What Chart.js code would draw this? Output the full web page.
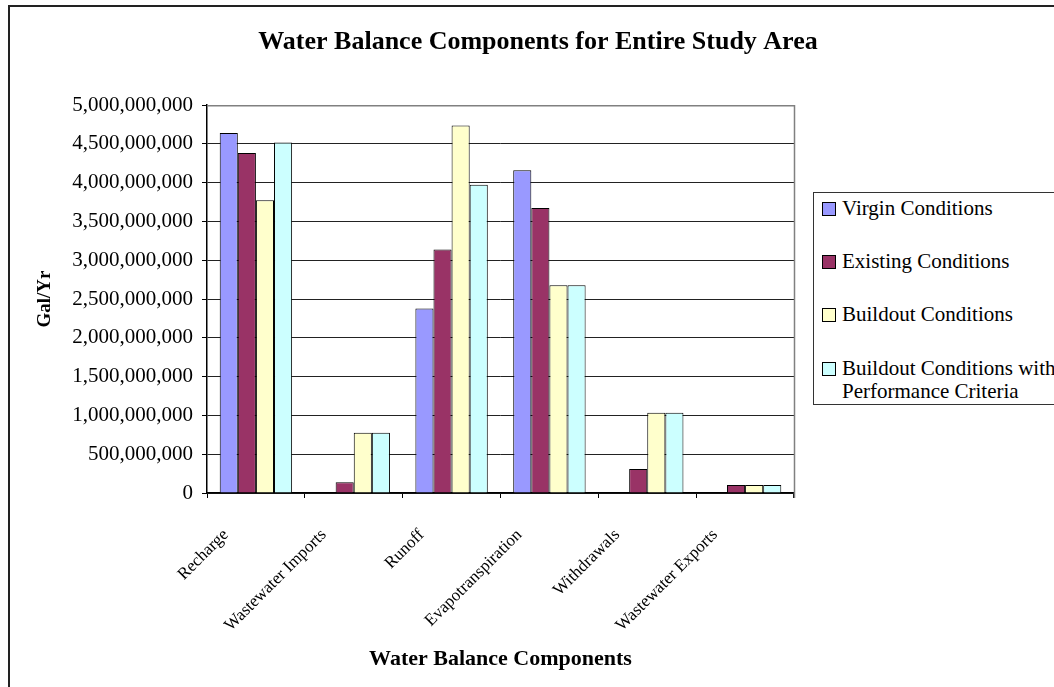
<!DOCTYPE html>
<html>
<head>
<meta charset="utf-8">
<title>Water Balance Components for Entire Study Area</title>
<script src="https://cdn.jsdelivr.net/npm/chart.js@4.4.1/dist/chart.umd.min.js"></script>
<style>
  html, body { margin: 0; padding: 0; background: #fff; }
  body { width: 1054px; height: 687px; position: relative; overflow: hidden; }
  #frame { position: absolute; left: 8px; top: 5px; width: 1200px; height: 900px; border: 2px solid #222; box-sizing: border-box; }
  #chart { position: absolute; left: 0; top: 0; }
  #legend {
    position: absolute; left: 813px; top: 192px; width: 300px; height: 213px;
    border: 1px solid #333; box-sizing: border-box; background: #fff;
    font-family: "Liberation Serif", "Times New Roman", serif; font-size: 21px; color: #000;
  }
  .item { position: absolute; left: 8px; line-height: 23px; }
  .swatch { position: absolute; left: 0; top: 5px; width: 12px; height: 12px; border: 1px solid #000; }
  .txt { margin-left: 20px; }
</style>
</head>
<body>
<div id="frame"></div>
<canvas id="chart" width="1054" height="687"></canvas>
<div id="legend"></div>

<script>
/* ===== DATA ===== */
const categories = ["Recharge", "Wastewater Imports", "Runoff", "Evapotranspiration", "Withdrawals", "Wastewater Exports"];

const virgin     = [4640000000, 0,         2380000000, 4160000000, 0,          0];
const existing   = [4385000000, 138000000, 3140000000, 3673000000, 309000000,  103000000];
const buildout   = [3776000000, 777000000, 4738000000, 2680000000, 1035000000, 103000000];
const buildoutPC = [4520000000, 777000000, 3973000000, 2680000000, 1035000000, 103000000];

const seriesNames = ["Virgin Conditions", "Existing Conditions", "Buildout Conditions", "Buildout Conditions with\nPerformance Criteria"];
const seriesColors = ["#9999FF", "#993366", "#FFFFCC", "#CCFFFF"];

const yTicks = [0, 500000000, 1000000000, 1500000000, 2000000000, 2500000000, 3000000000, 3500000000, 4000000000, 4500000000, 5000000000];

/* ===== STYLE ===== */
const SERIF = "'Liberation Serif', 'Times New Roman', serif";

/* gray frame on top/right of the plot area */
const plotFrame = {
  id: "plotFrame",
  afterDraw(chart) {
    const a = chart.chartArea;
    const c = chart.ctx;
    c.save();
    c.strokeStyle = "#808080";
    c.lineWidth = 1.5;
    c.beginPath();
    c.moveTo(a.left, a.top + 0.5);
    c.lineTo(a.right + 0.5, a.top + 0.5);
    c.lineTo(a.right + 0.5, a.bottom + 5);
    c.stroke();
    c.restore();
  }
};

const data = [virgin, existing, buildout, buildoutPC];

new Chart(document.getElementById("chart"), {
  type: "bar",
  data: {
    labels: categories,
    datasets: data.map((d, i) => ({
      label: seriesNames[i].replace("\n", " "),
      data: d,
      backgroundColor: seriesColors[i],
      borderColor: "#000",
      borderWidth: 1,
      categoryPercentage: 0.74,
      barPercentage: 1.0
    }))
  },
  options: {
    responsive: false,
    animation: false,
    layout: { padding: { left: 22, right: 0, top: 0, bottom: 14 } },
    plugins: {
      legend: { display: false },
      tooltip: { enabled: false },
      title: {
        display: true,
        text: "Water Balance Components for Entire Study Area",
        color: "#000",
        font: { family: SERIF, size: 26, weight: "bold" },
        padding: { top: 27, bottom: 47 }
      }
    },
    scales: {
      x: {
        afterFit(scale) {
          scale.height = 687 - 14 - 493;
        },
        grid: {
          offset: true,
          drawOnChartArea: false,
          drawTicks: true,
          tickLength: 5,
          color: "#000"
        },
        border: { color: "#000", width: 1.5 },
        ticks: {
          color: "#000",
          font: { family: SERIF, size: 17 },
          minRotation: 45,
          maxRotation: 45,
          padding: 27,
          labelOffset: -30,
          autoSkip: false
        },
        title: {
          display: true,
          text: "Water Balance Components",
          color: "#000",
          font: { family: SERIF, size: 22, weight: "bold" },
          padding: { top: 20, bottom: 0 }
        }
      },
      y: {
        min: 0,
        max: 5000000000,
        afterBuildTicks(scale) {
          scale.ticks = yTicks.map(v => ({ value: v }));
        },
        afterFit(scale) {
          scale.width = 207 - 22;
        },
        grid: {
          color: ctx => (ctx.tick && ctx.tick.value === 5000000000 ? "#808080" : "#222"),
          lineWidth: 1,
          tickLength: 5,
          tickColor: "#000"
        },
        border: { color: "#000", width: 1.5 },
        ticks: {
          color: "#000",
          font: { family: SERIF, size: 21 },
          padding: 9,
          callback: v => Number(v).toLocaleString("en-US")
        },
        title: {
          display: true,
          text: "Gal/Yr",
          color: "#000",
          font: { family: SERIF, size: 19, weight: "bold" },
          padding: { top: 12, bottom: 0 }
        }
      },
      /* empty right-hand box that leaves room for the legend */
      side: {
        type: "linear",
        position: "right",
        display: true,
        grid: { display: false },
        border: { display: false },
        ticks: { display: false },
        afterFit(scale) {
          scale.width = 1054 - 794;
        }
      }
    }
  },
  plugins: [plotFrame]
});

/* ===== LEGEND ===== */
const legendTops = [4, 57, 110, 164];
const legend = document.getElementById("legend");
seriesNames.forEach((name, i) => {
  const item = document.createElement("div");
  item.className = "item";
  item.style.top = legendTops[i] + "px";
  item.innerHTML = `<span class="swatch" style="background:${seriesColors[i]}"></span>` +
    `<div class="txt">${name.split("\n").join("<br>")}</div>`;
  legend.appendChild(item);
});
</script>
</body>
</html>
